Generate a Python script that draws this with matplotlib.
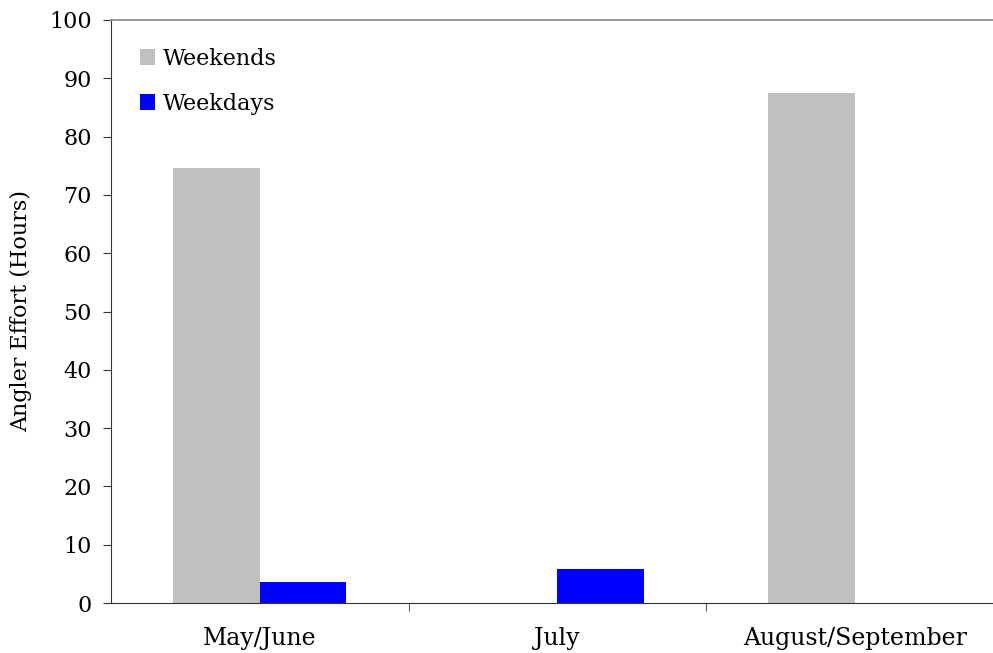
import numpy as np
import matplotlib.pyplot as plt

categories = ["May/June", "July", "August/September"]
weekends = [74.6, 0, 87.4]
weekdays = [3.6, 5.8, 0]

plt.rcParams["font.family"] = ["DejaVu Serif"]

fig = plt.figure(figsize=(9.93, 6.53), dpi=100)
ax = fig.add_axes([111 / 993, 1 - 603 / 653, 892.5 / 993, 583 / 653])

x = np.arange(len(categories))
w = 0.29
ax.bar(x - w / 2, weekends, w, color="#c0c0c0", label="Weekends")
ax.bar(x + w / 2, weekdays, w, color="#0000ff", label="Weekdays")

ax.set_xlim(-0.5, 2.5)
ax.set_ylim(0, 100)
ax.set_yticks(range(0, 101, 10))
ax.tick_params(axis="y", labelsize=16, length=6, color="#333333", pad=8)

ax.set_xticks(x)
ax.set_xticklabels(categories, fontsize=17)
ax.tick_params(axis="x", length=0, pad=17)
ax.set_xticks([0.5, 1.5, 2.5], minor=True)
ax.tick_params(axis="x", which="minor", length=6, color="#333333")

ax.set_ylabel("Angler Effort (Hours)", fontsize=16, labelpad=12)

ax.spines["right"].set_visible(False)
ax.spines["top"].set_color("#909090")
ax.spines["top"].set_linewidth(1.3)
ax.spines["left"].set_color("#333333")
ax.spines["bottom"].set_color("#333333")

ax.legend(loc="upper left", bbox_to_anchor=(0.010, 0.987), frameon=False,
          fontsize=16, handlelength=0.7, handleheight=0.7,
          handletextpad=0.35, labelspacing=1.05)

fig.savefig("out.png", dpi=100)
